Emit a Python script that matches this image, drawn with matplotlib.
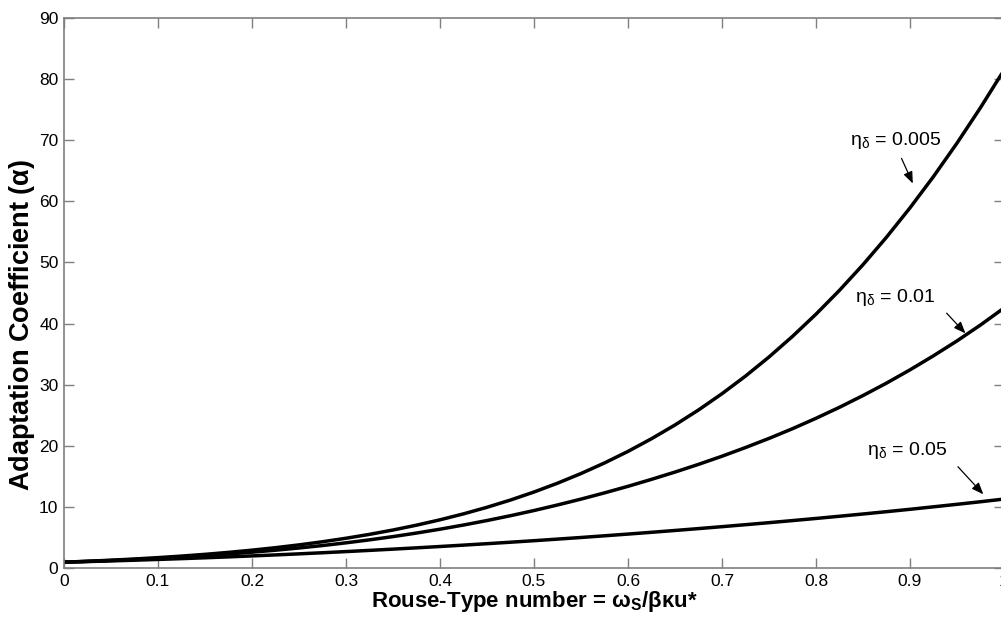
import matplotlib
matplotlib.use("Agg")
import matplotlib.pyplot as plt

plt.rcParams["font.family"] = ["Liberation Sans", "DejaVu Sans"]
plt.rcParams["mathtext.fontset"] = "custom"
plt.rcParams["mathtext.rm"] = "Liberation Sans"
plt.rcParams["mathtext.it"] = "Liberation Sans"
plt.rcParams["mathtext.bf"] = "Liberation Sans:bold"

# Rouse-type number
rouse = [0.000, 0.025, 0.050, 0.075, 0.100, 0.125, 0.150, 0.175, 0.200, 0.225,
         0.250, 0.275, 0.300, 0.325, 0.350, 0.375, 0.400, 0.425, 0.450, 0.475,
         0.500, 0.525, 0.550, 0.575, 0.600, 0.625, 0.650, 0.675, 0.700, 0.725,
         0.750, 0.775, 0.800, 0.825, 0.850, 0.875, 0.900, 0.925, 0.950, 0.975,
         1.000]

# Adaptation coefficient for each eta_delta
alpha_0005 = [1.0, 1.152, 1.325, 1.522, 1.744, 1.996, 2.282, 2.603, 2.965, 3.371,
              3.828, 4.339, 4.911, 5.548, 6.259, 7.049, 7.926, 8.898, 9.973, 11.16,
              12.47, 13.91, 15.49, 17.22, 19.11, 21.18, 23.43, 25.88, 28.54, 31.42,
              34.54, 37.91, 41.54, 45.44, 49.63, 54.12, 58.92, 64.04, 69.50, 75.30,
              81.44]
alpha_001 = [1.0, 1.130, 1.278, 1.444, 1.630, 1.840, 2.075, 2.338, 2.631, 2.958,
             3.320, 3.721, 4.163, 4.649, 5.181, 5.762, 6.392, 7.074, 7.808, 8.598,
             9.443, 10.35, 11.31, 12.33, 13.40, 14.54, 15.73, 16.99, 18.32, 19.74,
             21.23, 22.82, 24.52, 26.32, 28.24, 30.27, 32.44, 34.74, 37.17, 39.77,
             42.55]
alpha_005 = [1.0, 1.101, 1.209, 1.324, 1.448, 1.579, 1.719, 1.867, 2.024, 2.189,
             2.362, 2.543, 2.732, 2.929, 3.133, 3.344, 3.563, 3.789, 4.023, 4.264,
             4.513, 4.771, 5.037, 5.313, 5.595, 5.886, 6.184, 6.490, 6.805, 7.128,
             7.459, 7.800, 8.149, 8.509, 8.877, 9.255, 9.645, 10.05, 10.46, 10.88,
             11.32]

curve_labels = ["0.005", "0.01", "0.05"]

x_ticks = [0, 0.1, 0.2, 0.3, 0.4, 0.5, 0.6, 0.7, 0.8, 0.9, 1]
x_tick_labels = ["0", "0.1", "0.2", "0.3", "0.4", "0.5", "0.6", "0.7", "0.8", "0.9", "1"]
y_ticks = [0, 10, 20, 30, 40, 50, 60, 70, 80, 90]

fig = plt.figure(figsize=(10.01, 6.18), dpi=100)
ax = fig.add_axes([64 / 1001, 1 - 568.3 / 618, 940 / 1001, (568.3 - 17.7) / 618])

for series in (alpha_0005, alpha_001, alpha_005):
    ax.plot(rouse, series, color="black", lw=2.5, solid_joinstyle="round",
            solid_capstyle="butt")

ax.set_xlim(0, 1)
ax.set_ylim(0, 90)
ax.set_xticks(x_ticks)
ax.set_xticklabels(x_tick_labels)
ax.set_yticks(y_ticks)

spine_grey = "#7f7f7f"
for s in ax.spines.values():
    s.set_color(spine_grey)
    s.set_linewidth(1.2)
ax.tick_params(direction="in", length=7, width=1.0, color=spine_grey,
               top=True, right=True, labelsize=12.5, labelcolor="black", pad=4)

ax.set_xlabel(r"Rouse-Type number = $\mathbf{\omega_S}$/$\mathbf{\beta\kappa}$u*",
              fontsize=16, fontweight="bold")
ax.xaxis.set_label_coords(0.5, -(607 - 568.3) / 550.6)
ax.xaxis.label.set_verticalalignment("baseline")
ax.set_ylabel(r"Adaptation Coefficient ($\mathbf{\alpha}$)", fontsize=19.5, fontweight="bold")
ax.yaxis.set_label_coords(-(64 - 22) / 940, (568.3 - 325) / 550.6)
ax.yaxis.label.set_verticalalignment("center")

# curve annotations: label position (baseline), arrow tail, arrow head
label_pos = [(0.836, 69.2), (0.841, 43.5), (0.854, 18.6)]
arrow_tail = [(0.891, 67.0), (0.939, 41.7), (0.951, 16.6)]
arrow_head = [(0.903, 62.9), (0.959, 38.4), (0.978, 12.1)]

for lab, pos, tail, head in zip(curve_labels, label_pos, arrow_tail, arrow_head):
    ax.text(pos[0], pos[1], r"$\mathregular{\eta_\delta}$ = " + lab,
            fontsize=14, ha="left", va="baseline")
    ax.annotate("", xy=head, xytext=tail,
                arrowprops=dict(arrowstyle="-|>,head_length=0.7,head_width=0.28",
                                color="black", lw=0.9, shrinkA=0, shrinkB=0))

fig.savefig("out.png", dpi=100)
